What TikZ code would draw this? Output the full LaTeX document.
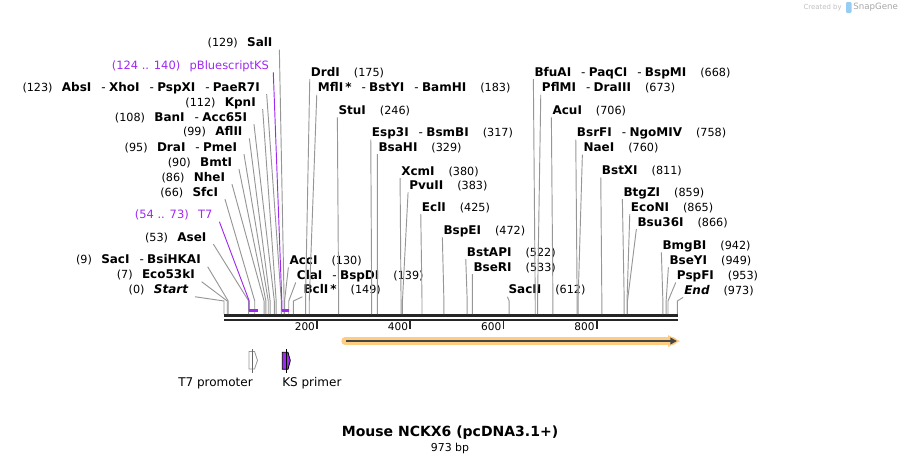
\documentclass[tikz,border=0pt]{standalone}
\usepackage{fontspec}
\setmainfont{DejaVu Sans}
\usetikzlibrary{arrows.meta}

\definecolor{primerpurple}{RGB}{160,40,240}
\definecolor{cutgray}{RGB}{150,150,150}
\definecolor{orfband}{RGB}{255,205,130}
\definecolor{orfline}{RGB}{70,70,70}
\definecolor{logoblue}{RGB}{150,205,240}

\newcommand{\sitenum}[1]{{\mdseries\upshape\fontsize{8.4}{10}\selectfont #1}}
\newcommand{\sitesep}{\hspace{7.5pt}{\mdseries -}\hspace{2.5pt}}

\tikzset{
  lsite/.style={anchor=base east, inner sep=0pt, text depth=2pt, font=\fontsize{9}{10}\selectfont\bfseries},
  rsite/.style={anchor=base west, inner sep=0pt, text depth=2pt, font=\fontsize{9}{10}\selectfont\bfseries},
  plabel/.style={anchor=base east, inner sep=0pt, text depth=2pt, text=primerpurple, font=\fontsize{8.6}{10}\selectfont},
  cut/.style={draw=cutgray, line width=0.7pt},
  primer/.style={draw=primerpurple, line width=0.7pt},
  featlabel/.style={anchor=west, inner sep=0pt, font=\fontsize{9}{11}\selectfont}
}

\begin{document}
\begin{tikzpicture}[x=0.75pt, y=-0.75pt]
\useasboundingbox (0,0) rectangle (902,464);

% sequence line
\draw[line width=1.8pt, black!85] (224,315.5) -- (678,315.5);
\draw[line width=1.8pt, black!85] (224,319.9) -- (678,319.9);

% ruler ticks
\foreach \bp in {200,400,600,800}{
\draw[line width=1.4pt, black!85] ({224+0.4659*\bp},320) -- ({224+0.4659*\bp},328.5);
\node[anchor=east, inner sep=0pt, font=\fontsize{7.9}{9}\selectfont] (tick\bp) at ({222+0.4659*\bp},327) {\bp};
}

% sites on the left
\foreach \i/\bp/\yc/\xr/\lbl in
{1/129/42.3/272.7/{SalI},
 3/123/86.7/260/{AbsI\sitesep XhoI\sitesep PspXI\sitesep PaeR7I},
 4/112/101.7/256/{KpnI},
 5/108/116.7/247.3/{BanI\sitesep Acc65I},
 6/99/131/242.7/{AflII},
 7/95/146.7/237.3/{DraI\sitesep PmeI},
 8/90/161.7/232.3/{BmtI},
 9/86/176.7/225.3/{NheI},
 10/66/191.7/218.3/{SfcI},
 12/53/236.7/206.7/{AseI},
 13/9/259.3/201/{SacI\sitesep BsiHKAI},
 14/7/274.3/195/{Eco53kI},
 15/0/289.3/188.3/{{\itshape Start}}}
{
\node[lsite] (L\i) at (\xr,\yc+4.5) {\sitenum{(\bp)}\hspace{7pt}\lbl};
\coordinate (Lk\i) at ({224+0.4659*\bp},301);
\coordinate (Lb\i) at ({224+0.4659*\bp},314);
\draw[cut] ([xshift=5pt]L\i.south east) -- (Lk\i) -- (Lb\i);
}

% sites on the right
\foreach \i/\bp/\yc/\xl/\lbl in
{1/130/260/289.3/{AccI},
 2/139/275/296.7/{ClaI\sitesep BspDI},
 3/149/289.3/303.3/{BclI\,*},
 4/175/71.7/310.7/{DrdI},
 5/183/87.3/317.7/{MflI\,*\sitesep BstYI\sitesep BamHI},
 6/246/110/338.3/{StuI},
 7/317/132.3/371.7/{Esp3I\sitesep BsmBI},
 8/329/146.7/378.3/{BsaHI},
 9/380/170.7/401/{XcmI},
 10/383/185/409/{PvuII},
 11/425/206.7/421.7/{EclI},
 12/472/230/443.3/{BspEI},
 13/522/251.7/466.7/{BstAPI},
 14/533/266.7/473.3/{BseRI},
 15/612/289.3/508.3/{SacII},
 16/668/71.7/534.3/{BfuAI\sitesep PaqCI\sitesep BspMI},
 17/673/87.3/541.7/{PflMI\sitesep DraIII},
 18/706/110/552.3/{AcuI},
 19/758/132.3/576.7/{BsrFI\sitesep NgoMIV},
 20/760/147.3/583.3/{NaeI},
 21/811/170/601.7/{BstXI},
 22/859/191.7/623.3/{BtgZI},
 23/865/206.7/630.7/{EcoNI},
 24/866/221.7/637.3/{Bsu36I},
 25/942/245/662.3/{BmgBI},
 26/949/260/669.3/{BseYI},
 27/953/275/676.7/{PspFI},
 28/973/290/684/{{\itshape End}}}
{
\node[rsite] (R\i) at (\xl,\yc+4.5) {\lbl\hspace{10.5pt}\sitenum{(\bp)}};
\coordinate (Rk\i) at ({224+0.4659*\bp},301);
\coordinate (Rb\i) at ({224+0.4659*\bp},314);
\draw[cut] ([xshift=-0.7pt]R\i.south west) -- (Rk\i) -- (Rb\i);
}

% primer sites
\node[plabel] (pks) at (269.3,69.5) {(124 .. 140)\hspace{7pt}pBluescriptKS};
\coordinate (pksk) at (281.8,301);
\coordinate (pksb) at (281.8,310.5);
\coordinate (pkse) at (289.2,310.5);
\draw[primer] ([xshift=3pt]pks.south east) -- (pksk) -- (pksb);
\draw[primerpurple, line width=1.6pt] (pksb) -- (pkse);

\node[plabel] (pt7) at (212.7,218.8) {(54 .. 73)\hspace{7pt}T7};
\coordinate (pt7k) at (249.2,301);
\coordinate (pt7b) at (249.2,310.5);
\coordinate (pt7e) at (258,310.5);
\draw[primer] ([xshift=5pt]pt7.south east) -- (pt7k) -- (pt7b);
\draw[primerpurple, line width=1.6pt] (pt7b) -- (pt7e);

% ORF arrow
\draw[orfband, line width=5.5pt, line cap=round] (345,341) -- (673,341);
\fill[orfband] (668,335) -- (680,341) -- (668,347) -- cycle;
\draw[orfline, line width=1.3pt, -{Triangle[length=5pt,width=5pt]}] (346,341) -- (677,341);

% features
\draw[cutgray, fill=white, line width=0.6pt] (249,351.5) -- (254.5,351.5) -- (257.5,360.3) -- (254.5,369) -- (249,369) -- cycle;
\draw[black!60, line width=0.6pt] (252.7,349) -- (252.7,373);
\draw[black, fill=primerpurple, line width=0.6pt] (282.3,352.3) -- (288,352.3) -- (290.3,360.5) -- (288,369.3) -- (282.3,369.3) -- cycle;
\draw[black, line width=0.6pt] (286,349) -- (286,373);
\node[featlabel] (t7lab) at (178,383) {T7 promoter};
\node[featlabel] (kslab) at (282,383) {KS primer};

% title
\node[font=\fontsize{10.5}{12}\selectfont\bfseries] (title) at (450,433) {Mouse NCKX6 (pcDNA3.1+)};
\node[font=\fontsize{8.2}{10}\selectfont] (size) at (450,448.5) {973 bp};

% credit
\node[anchor=east, inner sep=0pt, text=black!25, font=\fontsize{5.2}{6}\selectfont] (credit) at (842,7.5) {Created by};
\fill[logoblue, rounded corners=0.8pt] (846,2) rectangle (851.5,13);
\node[anchor=west, inner sep=0pt, text=black!35, font=\fontsize{6.5}{8}\selectfont] (brand) at (853,7.5) {SnapGene};
\end{tikzpicture}
\end{document}
